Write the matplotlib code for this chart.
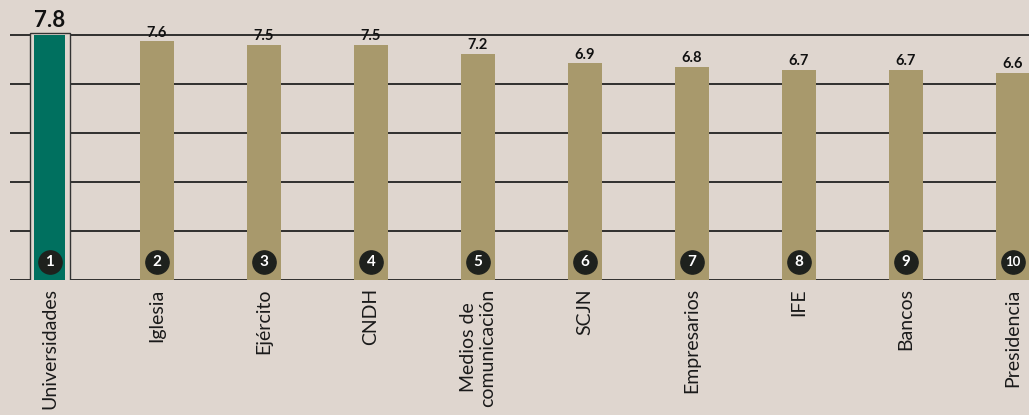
import matplotlib.pyplot as plt
import numpy as np

# Datos
categorias = ['Universidades', 'Iglesia', 'Ejército', 'CNDH', 'Medios de\ncomunicación',
              'SCJN', 'Empresarios', 'IFE', 'Bancos', 'Presidencia']
calificaciones = [7.8, 7.6, 7.5, 7.5, 7.2, 6.9, 6.8, 6.7, 6.7, 6.6]
lugares = list(range(1, 11))

fondo = '#dfd6cf'
caqui = '#a8996c'
verde = '#00705f'

plt.rcParams['font.family'] = ['Lato', 'DejaVu Sans']

fig = plt.figure(figsize=(10.29, 4.15), dpi=100, facecolor=fondo)
ax = fig.add_axes([0, 135 / 415, 1, 280 / 415])
ax.set_facecolor(fondo)

x = np.arange(len(categorias))
ax.set_xlim(-0.467, 9.15)
ax.set_ylim(0, 8.92)

# lineas horizontales (detras de las barras)
ax.hlines(np.linspace(0, 7.8, 6), -0.374, 9.3, color='#222222', lw=1.3, zorder=1)

anchos = [0.29] + [0.31] * (len(x) - 1)
colores = [verde] + [caqui] * (len(x) - 1)
ax.bar(x, calificaciones, width=anchos, color=colores, zorder=2)
# marco del primer lugar
ax.bar(x[0], calificaciones[0] + 0.12, bottom=-0.06, width=0.37, color=fondo,
       edgecolor='#333333', lw=1.0, zorder=1.5)

for xi, v in zip(x, calificaciones):
    if xi == 0:
        ax.text(xi, v + 0.14, f'{v}', ha='center', va='bottom', fontsize=16,
                fontweight='bold', color='#111111', zorder=4)
    else:
        ax.text(xi, v + 0.05, f'{v}', ha='center', va='bottom', fontsize=10.5,
                fontweight='bold', color='#111111', zorder=4)

ax.scatter(x, [0.57] * len(x), s=280, color='#1e211d', zorder=4)
for xi, n in zip(x, lugares):
    ax.text(xi, 0.57, str(n), ha='center', va='center', color='white',
            fontsize=11 if n < 10 else 9.5, fontweight='bold', zorder=5)

ax.set_xticks(x)
ax.set_xticklabels(categorias, rotation=90, fontsize=14, color='#1a1a1a',
                   va='top', ha='center', multialignment='center')
ax.tick_params(axis='x', length=0, pad=6)
ax.set_yticks([])
for s in ax.spines.values():
    s.set_visible(False)

fig.savefig('out.png', dpi=100, facecolor=fondo)
